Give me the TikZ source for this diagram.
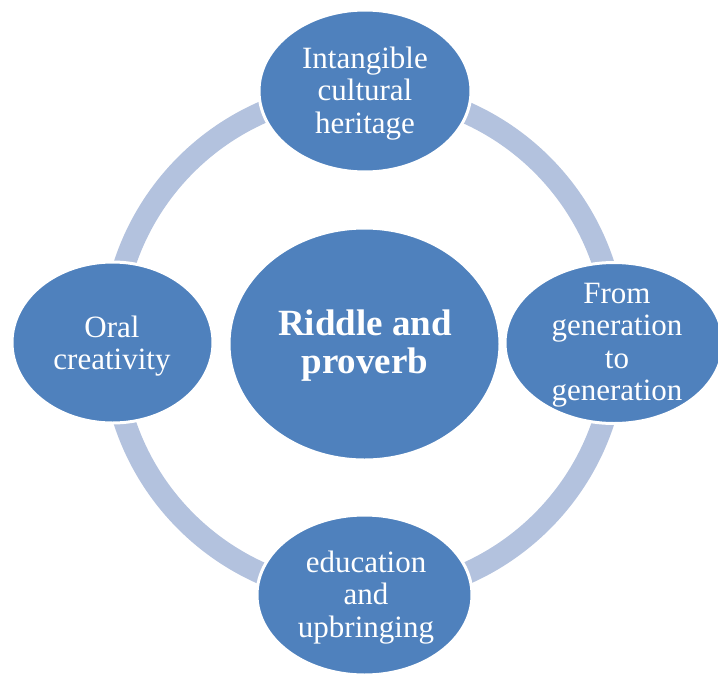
\documentclass[tikz,border=0pt]{standalone}
\usepackage{fontspec}
\setmainfont{Liberation Serif}
\usetikzlibrary{shapes.geometric}
\definecolor{nodeblue}{RGB}{79,129,189}
\definecolor{ringblue}{RGB}{179,194,222}
\tikzset{
  blob/.style={ellipse, fill=nodeblue, draw=white, line width=3pt, inner sep=0pt},
  lbl/.style={text=white, align=center, inner sep=0pt, font=\fontsize{31}{32.5}\selectfont},
  mainlbl/.style={text=white, align=center, inner sep=0pt, font=\fontsize{37}{38}\selectfont\bfseries},
  ring/.style={draw=ringblue, line width=22pt}
}
\begin{document}
\begin{tikzpicture}[x=1pt,y=-1pt]
\useasboundingbox (0,0) rectangle (718,675);
\coordinate (c) at (364,343);
\draw[ring] (c) circle (252);
\node[blob, minimum width=271pt, minimum height=232pt] (mid) at (364.5,344) {};
\node[blob, minimum width=212pt, minimum height=162pt] (top) at (365,91) {};
\node[blob, minimum width=201pt, minimum height=161pt] (left) at (112.5,342.5) {};
\node[blob, minimum width=218pt, minimum height=161pt] (right) at (614,343) {};
\node[blob, minimum width=215pt, minimum height=160pt] (bottom) at (364.5,595) {};
\node[mainlbl] (tmid) at (365,345.5) {Riddle and\\proverb};
\node[lbl] (ttop) at (365,93.5) {Intangible\\cultural\\heritage};
\node[lbl] (tleft) at (112,346) {Oral\\creativity};
\node[lbl] (tright) at (617,345) {From\\generation\\to\\generation};
\node[lbl] (tbottom) at (366,597.5) {education\\and\\upbringing};
\end{tikzpicture}
\end{document}
